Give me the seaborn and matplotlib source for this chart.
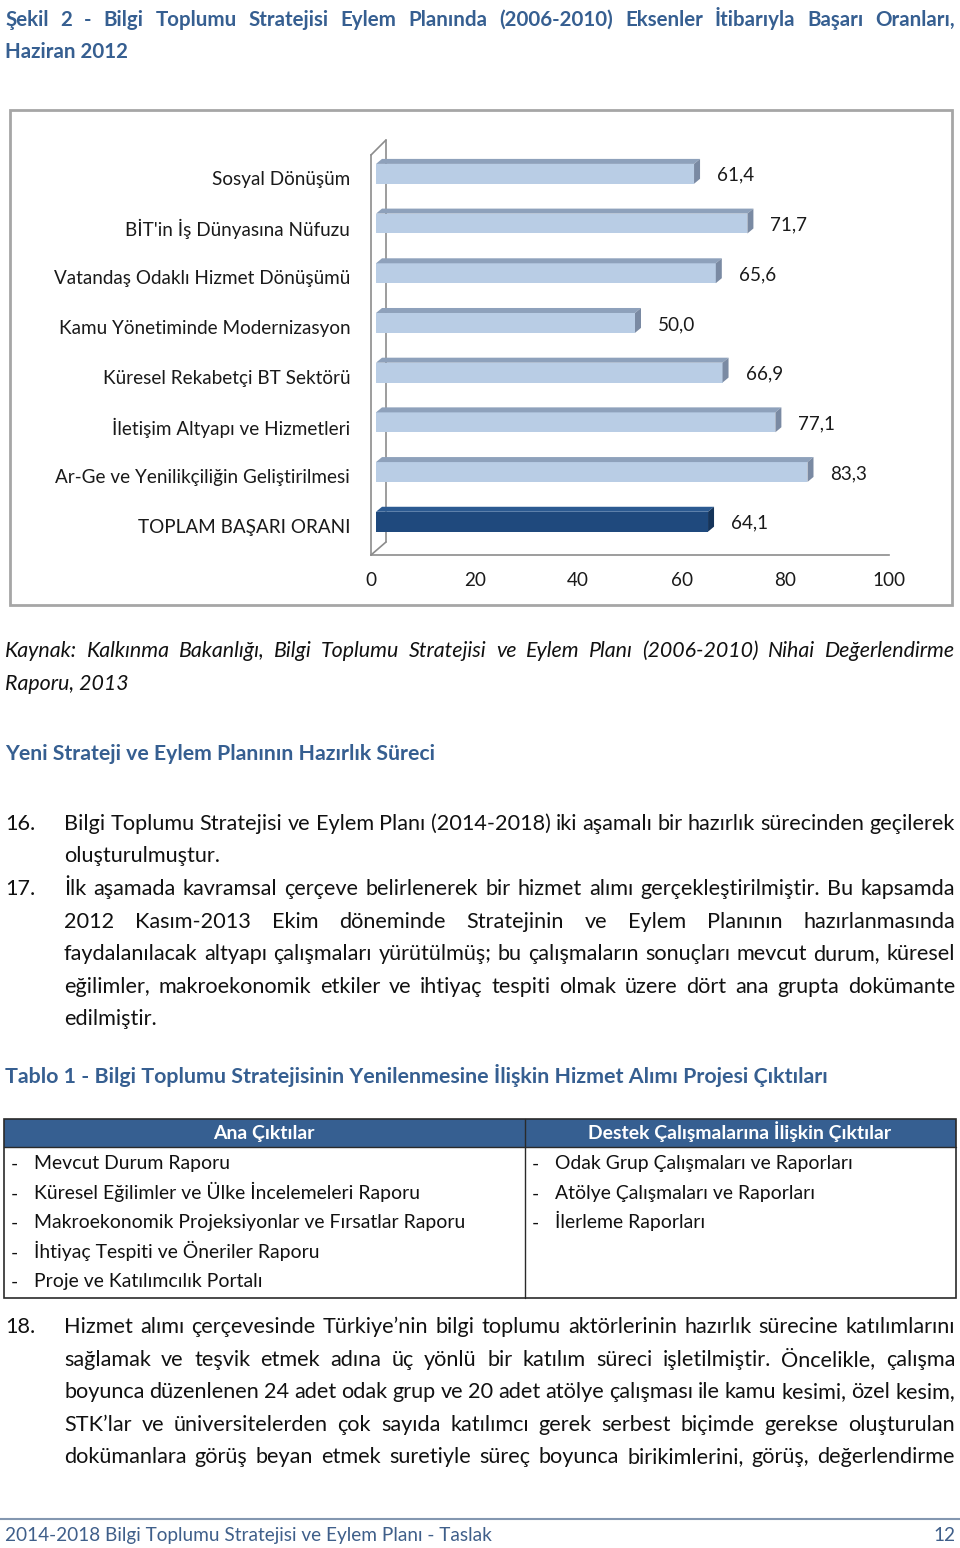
import numpy as np
import pandas as pd
import seaborn as sns
import matplotlib
matplotlib.use("Agg")
import matplotlib.pyplot as plt
import matplotlib.transforms as mtransforms
from matplotlib.patches import Rectangle, Polygon

# ---------------- data ----------------
categories = [
    "Sosyal Dönüşüm",
    "BİT'in İş Dünyasına Nüfuzu",
    "Vatandaş Odaklı Hizmet Dönüşümü",
    "Kamu Yönetiminde Modernizasyon",
    "Küresel Rekabetçi BT Sektörü",
    "İletişim Altyapı ve Hizmetleri",
    "Ar-Ge ve Yenilikçiliğin Geliştirilmesi",
    "TOPLAM BAŞARI ORANI",
]
values = [61.4, 71.7, 65.6, 50.0, 66.9, 77.1, 83.3, 64.1]
x_ticks = [0, 20, 40, 60, 80, 100]
x_tick_labels = ["0", "20", "40", "60", "80", "100"]

# ---------------- style ----------------
sns.set_style("white")
plt.rcParams["font.family"] = ["Lato", "DejaVu Sans"]

BLUE = "#365F91"
AXC = "#8C8C8C"
LIGHT = "#B9CDE5"
LIGHT_TOP = "#8EA1BB"
LIGHT_SIDE = "#7A8AA3"
DARK = "#1F497D"
DARK_TOP = "#2C5A91"
DARK_SIDE = "#15345A"

fig = plt.figure(figsize=(9.6, 15.48), dpi=100)
page = fig.add_axes([0, 0, 1, 1], zorder=0)
page.set_xlim(0, 960)
page.set_ylim(1548, 0)
page.axis("off")
R = fig.canvas.get_renderer()


def wpx(s, size, **kw):
    t = page.text(0, 0, s, fontsize=size, **kw)
    w = t.get_window_extent(R).width
    t.remove()
    return w


def fit(s, target, **kw):
    return 20.0 * target / wpx(s, 20.0, **kw)


def bl(yc, size):
    return yc + 0.33 * size * 100 / 72


def put(x, yc, s, size, ha="left", **kw):
    page.text(x, bl(yc, size), s, fontsize=size, ha=ha, va="baseline", **kw)


def justify(s, x0, x1, yc, size, **kw):
    words = s.split(" ")
    ws = [wpx(w, size, **kw) for w in words]
    gap = (x1 - x0 - sum(ws)) / (len(words) - 1)
    x = x0
    for w, wd in zip(words, ws):
        page.text(x, bl(yc, size), w, fontsize=size, ha="left", va="baseline", **kw)
        x += wd + gap


# ---------------- title ----------------
s_title = fit("Haziran 2012", 123, weight="bold")
justify("Şekil 2 - Bilgi Toplumu Stratejisi Eylem Planında (2006-2010) Eksenler İtibarıyla Başarı Oranları,",
        5, 955, 19, s_title, weight="bold", color=BLUE)
put(5, 51, "Haziran 2012", s_title, weight="bold", color=BLUE)

# ---------------- chart frame ----------------
page.add_patch(Rectangle((10, 110), 942, 495, fill=False, ec="#A6A6A6", lw=2))

# ---------------- chart ----------------
ax = fig.add_axes([371 / 960, 1 - 555 / 1548, 518 / 960, 406 / 1548], zorder=1)
ax.patch.set_visible(False)

df = pd.DataFrame({"kategori": categories, "oran": values})
palette = {c: (DARK if i == len(categories) - 1 else LIGHT) for i, c in enumerate(categories)}
sns.barplot(data=df, x="oran", y="kategori", hue="kategori", palette=palette,
            width=0.40, legend=False, ax=ax, orient="h", saturation=1)

ax.set_xlim(0, 100)
ax.set_ylim(7.67, -0.5)
ax.set_xlabel("")
ax.set_ylabel("")

s_cat = fit("Ar-Ge ve Yenilikçiliğin Geliştirilmesi", 295)

shift = mtransforms.ScaledTranslation(5 / 100, 0, fig.dpi_scale_trans)
ux = 100 / 518.0
uy = 8.17 / 406.0
dx, dy = 6 * ux, 5 * uy
for i, p in enumerate(ax.patches):
    tr = ax.transData + shift
    p.set_transform(tr)
    p.set_edgecolor("none")
    x0, yt, w, h = p.get_x(), p.get_y(), p.get_width(), p.get_height()
    x1 = x0 + w
    dark = abs(w - values[-1]) < 1e-6
    top = Polygon([(x0, yt), (x1, yt), (x1 + dx, yt - dy), (x0 + dx, yt - dy)],
                  closed=True, fc=DARK_TOP if dark else LIGHT_TOP, ec="none", transform=tr)
    side = Polygon([(x1, yt), (x1, yt + h), (x1 + dx, yt + h - dy), (x1 + dx, yt - dy)],
                   closed=True, fc=DARK_SIDE if dark else LIGHT_SIDE, ec="none", transform=tr)
    ax.add_patch(top)
    ax.add_patch(side)

# value labels
lab_tr = ax.transData + mtransforms.ScaledTranslation(28 / 100, 0, fig.dpi_scale_trans)
for i, v in enumerate(values):
    ax.text(v, i, f"{v:.1f}".replace(".", ","), transform=lab_tr, ha="left",
            va="center_baseline", fontsize=s_cat, color="#1a1a1a")

# axes styling
for sp in ["top", "right"]:
    ax.spines[sp].set_visible(False)
for sp in ["left", "bottom"]:
    ax.spines[sp].set_color(AXC)
    ax.spines[sp].set_linewidth(1.2)
ax.spines["left"].set_bounds(7.67, -0.38)

ax.set_xticks(x_ticks)
ax.set_xticklabels(x_tick_labels, fontsize=s_cat, color="#1a1a1a")
ax.tick_params(axis="x", length=5.5, width=1.2, color=AXC, direction="out", pad=7)

ax.set_yticks(range(len(categories)))
ax.set_yticklabels(categories, fontsize=s_cat, color="#1a1a1a")
ax.set_yticks(np.arange(-0.5, len(categories), 1.0), minor=True)
ax.tick_params(axis="y", which="major", length=0, pad=15)
ax.tick_params(axis="y", which="minor", length=4.3, width=1.2, color=AXC, direction="out")
for lab in ax.get_yticklabels():
    lab.set_transform(lab.get_transform() + mtransforms.ScaledTranslation(0, -4 / 100, fig.dpi_scale_trans))

# 3D wall lines (decoration)
page.plot([386, 386], [140, 542], color=AXC, lw=1.2, zorder=0)
page.plot([371, 386], [155, 140], color=AXC, lw=1.2)
page.plot([371, 386], [555, 542], color=AXC, lw=1.2)

# ---------------- source ----------------
s_src = fit("Raporu, 2013", 124, style="italic")
justify("Kaynak: Kalkınma Bakanlığı, Bilgi Toplumu Stratejisi ve Eylem Planı (2006-2010) Nihai Değerlendirme",
        5, 955, 650, s_src, style="italic", color="#111111")
put(5, 683, "Raporu, 2013", s_src, style="italic", color="#111111")

# ---------------- heading ----------------
s_head = fit("Yeni Strateji ve Eylem Planının Hazırlık Süreci", 429, weight="bold")
put(5, 753, "Yeni Strateji ve Eylem Planının Hazırlık Süreci", s_head, weight="bold", color=BLUE)

# ---------------- body ----------------
s_body = 0.5 * (fit("oluşturulmuştur.", 156) + fit("edilmiştir.", 93))
BK = "#111111"
put(5, 823, "16.", s_body, color=BK)
justify("Bilgi Toplumu Stratejisi ve Eylem Planı (2014-2018) iki aşamalı bir hazırlık sürecinden geçilerek",
        64, 955, 823, s_body, color=BK)
put(64, 855, "oluşturulmuştur.", s_body, color=BK)

put(5, 888, "17.", s_body, color=BK)
p17 = [
    "İlk aşamada kavramsal çerçeve belirlenerek bir hizmet alımı gerçekleştirilmiştir. Bu kapsamda",
    "2012 Kasım-2013 Ekim döneminde Stratejinin ve Eylem Planının hazırlanmasında",
    "faydalanılacak altyapı çalışmaları yürütülmüş; bu çalışmaların sonuçları mevcut durum, küresel",
    "eğilimler, makroekonomik etkiler ve ihtiyaç tespiti olmak üzere dört ana grupta dokümante",
]
for k, line in enumerate(p17):
    justify(line, 64, 955, 888 + k * 32.5, s_body, color=BK)
put(64, 1018, "edilmiştir.", s_body, color=BK)

# ---------------- table ----------------
s_tt = fit("Tablo 1 - Bilgi Toplumu Stratejisinin Yenilenmesine İlişkin Hizmet Alımı Projesi Çıktıları", 823, weight="bold")
put(5, 1076, "Tablo 1 - Bilgi Toplumu Stratejisinin Yenilenmesine İlişkin Hizmet Alımı Projesi Çıktıları",
    s_tt, weight="bold", color=BLUE)

page.add_patch(Rectangle((4, 1119), 952, 28, fc=BLUE, ec="none"))
page.add_patch(Rectangle((4, 1119), 952, 179, fill=False, ec="#2a2a2a", lw=1.2))
page.plot([4, 956], [1147, 1147], color="#2a2a2a", lw=1.0)
page.plot([525, 525], [1119, 1298], color="#2a2a2a", lw=1.0)

s_th = fit("Destek Çalışmalarına İlişkin Çıktılar", 303, weight="bold")
put(264, 1133, "Ana Çıktılar", s_th, ha="center", weight="bold", color="white")
put(740, 1133, "Destek Çalışmalarına İlişkin Çıktılar", s_th, ha="center", weight="bold", color="white")

left_items = ["Mevcut Durum Raporu", "Küresel Eğilimler ve Ülke İncelemeleri Raporu",
              "Makroekonomik Projeksiyonlar ve Fırsatlar Raporu", "İhtiyaç Tespiti ve Öneriler Raporu",
              "Proje ve Katılımcılık Portalı"]
right_items = ["Odak Grup Çalışmaları ve Raporları", "Atölye Çalışmaları ve Raporları", "İlerleme Raporları"]
row_y = [1163, 1193, 1222, 1252, 1281]
s_td = fit("Makroekonomik Projeksiyonlar ve Fırsatlar Raporu", 431)
for yy, it in zip(row_y, left_items):
    put(11, yy, "-", s_td, color=BK)
    put(34, yy, it, s_td, color=BK)
for yy, it in zip(row_y, right_items):
    put(532, yy, "-", s_td, color=BK)
    put(555, yy, it, s_td, color=BK)

# ---------------- paragraph 18 ----------------
put(5, 1326, "18.", s_body, color=BK)
p18 = [
    "Hizmet alımı çerçevesinde Türkiye’nin bilgi toplumu aktörlerinin hazırlık sürecine katılımlarını",
    "sağlamak ve teşvik etmek adına üç yönlü bir katılım süreci işletilmiştir. Öncelikle, çalışma",
    "boyunca düzenlenen 24 adet odak grup ve 20 adet atölye çalışması ile kamu kesimi, özel kesim,",
    "STK’lar ve üniversitelerden çok sayıda katılımcı gerek serbest biçimde gerekse oluşturulan",
    "dokümanlara görüş beyan etmek suretiyle süreç boyunca birikimlerini, görüş, değerlendirme",
]
for k, line in enumerate(p18):
    justify(line, 64, 955, 1326 + k * 32.5, s_body, color=BK)

# ---------------- footer ----------------
page.plot([0, 960], [1519, 1519], color="#8497B0", lw=1.5)
s_ft = fit("2014-2018 Bilgi Toplumu Stratejisi ve Eylem Planı - Taslak", 487)
put(5, 1535, "2014-2018 Bilgi Toplumu Stratejisi ve Eylem Planı - Taslak", s_ft, color="#3F5F8A")
put(955, 1535, "12", s_ft, ha="right", color="#3F5F8A")

fig.savefig("out.png", dpi=100, facecolor="white")
